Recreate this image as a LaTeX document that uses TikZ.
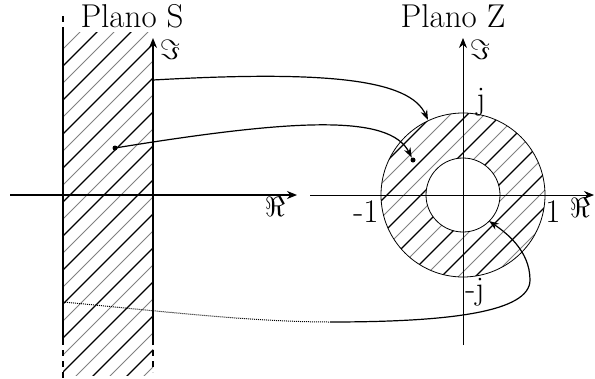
\documentclass[tikz,border=0pt]{standalone}
\usetikzlibrary{arrows.meta}
\begin{document}
\begin{tikzpicture}[x=1pt,y=-1pt,
  lbl/.style={font=\fontsize{33}{38}\selectfont, inner sep=0pt},
  sym/.style={font=\fontsize{10}{12}\selectfont, inner sep=0pt},
  axis/.style={line width=1.2pt,-{Stealth[length=10pt,width=8pt]}},
  zaxis/.style={line width=0.9pt,-{Stealth[length=10pt,width=8pt]}},
  hthick/.style={line width=1.3pt},
  hthin/.style={line width=0.8pt, gray},
  conn/.style={line width=1.2pt},
  tip/.style={-{Stealth[length=10pt,width=7pt]}},
  dotn/.style={circle,fill,inner sep=0pt,minimum size=5pt}]
\useasboundingbox (0,0) rectangle (595,378);
% strip hatching
\begin{scope}
  \clip (63,32) rectangle (153,375);
  \foreach \c in {95,129,...,560} \draw[hthick] (\c,0) -- ++(-420,420);
  \foreach \c in {112,146,...,580} \draw[hthin] (\c,0) -- ++(-420,420);
\end{scope}
% annulus hatching
\coordinate (O) at (463,195);
\begin{scope}[even odd rule]
  \clip (O) circle (82pt) (O) circle (37pt);
  \foreach \c in {480,514,...,850} \draw[hthick] (\c,0) -- ++(-420,420);
  \foreach \c in {497,531,...,850} \draw[hthin] (\c,0) -- ++(-420,420);
\end{scope}
\draw[line width=0.8pt] (O) circle (82pt);
\draw[line width=0.8pt] (O) circle (37pt);
% S-plane axes and strip edges
\coordinate (sl) at (10,195);  \coordinate (sr) at (297,195);
\coordinate (sb) at (153,345); \coordinate (st) at (153,38);
\draw[axis] (sl) -- (sr);
\draw[line width=2pt] (63,32) -- (63,345);
\draw[line width=1.5pt, dash pattern=on 6pt off 5pt] (63,350) -- (63,378);
\draw[line width=1.5pt, dash pattern=on 6pt off 5pt] (63,16) -- (63,32);
\draw[axis] (sb) -- (st);
\draw[line width=1.5pt, dash pattern=on 6pt off 5pt] (153,350) -- (153,372);
% Z-plane axes
\coordinate (zl) at (310,195); \coordinate (zr) at (594,195);
\coordinate (zb) at (463,345); \coordinate (zt) at (463,38);
\draw[zaxis] (zl) -- (zr);
\draw[zaxis] (zb) -- (zt);
% labels
\node[lbl, anchor=base, text depth=0pt] (ps) at (132,27) {Plano S};
\node[lbl, anchor=base, text depth=0pt] (pz) at (453,27) {Plano Z};
\node[sym] (ims) at (170,50) {\scalebox{2.8}{$\Im$}};
\node[sym] (res) at (275,207) {\scalebox{2.8}{$\Re$}};
\node[sym] (imz) at (480,50) {\scalebox{2.8}{$\Im$}};
\node[sym] (rez) at (580,208) {\scalebox{2.8}{$\Re$}};
\node[lbl] (m1) at (366,212) {-1};
\node[lbl] (p1) at (553,212) {1};
\node[lbl] (jj) at (481,102) {j};
\node[lbl] (mj) at (475,292) {-j};
% connectors
\coordinate (a1) at (153,80);
\coordinate (a2) at (428,120);
\draw[conn,tip] (a1) .. controls (330,70) and (410,80) .. (a2);
\node[dotn] (d1) at (115,148) {};
\node[dotn] (d2) at (413,160) {};
\draw[conn,tip] (d1) .. controls (300,118) and (390,115) .. (d2);
\coordinate (c1) at (63,302);
\coordinate (c2) at (330,322);
\coordinate (c3) at (530,280);
\coordinate (c4) at (489,221);
\draw[line width=1pt, densely dotted] (c1) .. controls (150,310) and (250,322) .. (c2);
\draw[conn,tip] (c2) .. controls (450,322) and (530,312) .. (c3)
  .. controls (530,250) and (505,232) .. (c4);
\end{tikzpicture}
\end{document}
